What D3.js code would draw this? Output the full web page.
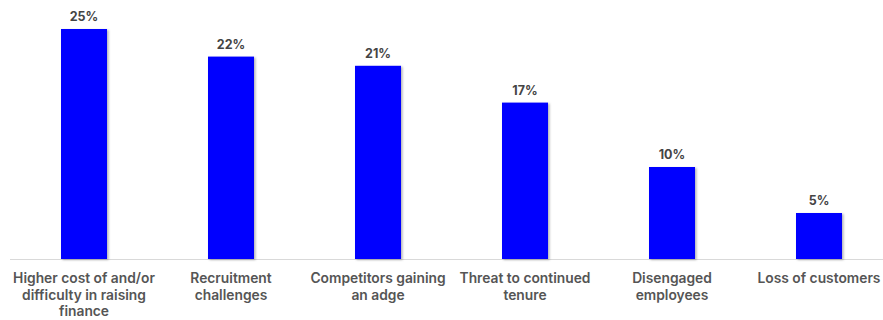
<!DOCTYPE html>
<html>
<head>
<meta charset="utf-8">
<script src="https://cdn.jsdelivr.net/npm/d3@7"></script>
<style>
  body { margin: 0; background: #fff; }
  svg { display: block; font-family: "Inter", "Lato", sans-serif; }
</style>
</head>
<body>
<svg id="chart" width="883" height="320"></svg>
<script>
const categories = [
  "Higher cost of and/or difficulty in raising finance",
  "Recruitment challenges",
  "Competitors gaining an adge",
  "Threat to continued tenure",
  "Disengaged employees",
  "Loss of customers"
]
const values = [25, 22, 21, 17, 10, 5]

const svg = d3.select("#chart")
const margin = {left: 10.5, right: -9.5, top: 29, bottom: 61}
const width = 883, height = 320

const x = d3.scaleBand()
            .domain(categories)
            .range([margin.left, width - margin.right])
            .paddingInner(0.687)
            .paddingOuter(0.3435)

const y = d3.scaleLinear()
            .domain([0, 25])
            .range([height - margin.bottom, margin.top])

const defs = svg.append("defs")
const shadow = defs.append("filter").attr("id", "shadow")
                   .attr("x", "-20%").attr("y", "-5%").attr("width", "140%").attr("height", "110%")
shadow.append("feDropShadow")
      .attr("dx", 1.5).attr("dy", 1).attr("stdDeviation", 1)
      .attr("flood-color", "#000").attr("flood-opacity", 0.3)

// baseline
svg.append("line")
   .attr("x1", 10).attr("x2", width)
   .attr("y1", y(0) + 0.5).attr("y2", y(0) + 0.5)
   .attr("stroke", "#d9d9d9").attr("stroke-width", 1)

svg.selectAll("rect.bar")
   .data(values)
   .enter()
   .append("rect")
   .attr("class", "bar")
   .attr("x", (d, i) => x(categories[i]))
   .attr("y", d => y(d))
   .attr("width", x.bandwidth())
   .attr("height", d => y(0) - y(d))
   .attr("fill", "#0000ff")
   .attr("filter", "url(#shadow)")

svg.selectAll("text.value")
   .data(values)
   .enter()
   .append("text")
   .attr("class", "value")
   .attr("x", (d, i) => x(categories[i]) + x.bandwidth() / 2)
   .attr("y", d => y(d) - 8)
   .attr("text-anchor", "middle")
   .attr("font-size", 12.5)
   .attr("font-weight", 700)
   .attr("fill", "#444")
   .text(d => d + "%")

// category labels, wrapped to the band step
const labels = svg.selectAll("text.cat")
   .data(categories)
   .enter()
   .append("text")
   .attr("class", "cat")
   .attr("x", d => x(d) + x.bandwidth() / 2)
   .attr("y", y(0) + 24)
   .attr("text-anchor", "middle")
   .attr("font-size", 13.8)
   .attr("font-weight", 600)
   .attr("fill", "#555")

labels.each(function(d) {
  const text = d3.select(this)
  const words = d.split(" ")
  const maxW = 150
  let line = []
  let tspan = text.append("tspan").attr("x", text.attr("x")).attr("dy", 0)
  words.forEach(w => {
    line.push(w)
    tspan.text(line.join(" "))
    if (tspan.node().getComputedTextLength() > maxW && line.length > 1) {
      line.pop()
      tspan.text(line.join(" "))
      line = [w]
      tspan = text.append("tspan").attr("x", text.attr("x")).attr("dy", 16.5).text(w)
    }
  })
})
</script>
</body>
</html>
